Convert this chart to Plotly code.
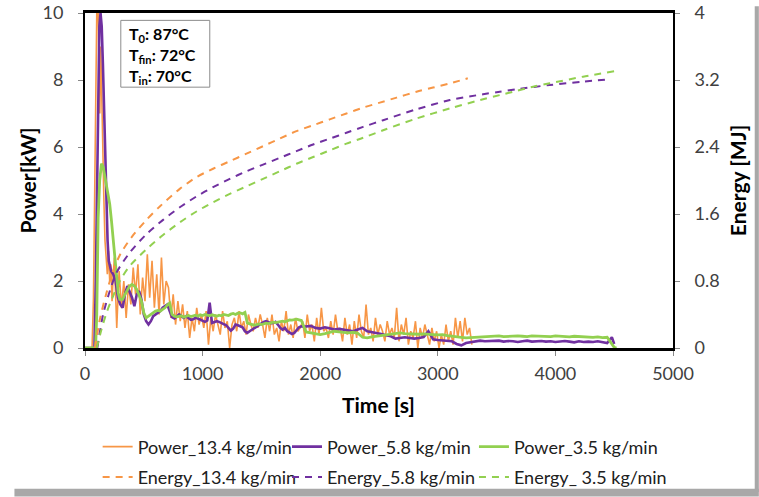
import plotly.graph_objects as go

# ---------------- data ----------------
# Power, 13.4 kg/min
orange_t0 = [0, 60, 72, 85, 95, 102, 110, 118, 126, 134, 142, 150, 160, 170, 180, 190, 200, 210, 220, 230, 240]
orange_p0 = [0, 0, 1.5, 5.5, 9.5, 10.6, 10.4, 8.2, 7.0, 9.0, 7.5, 5.5, 4.5, 3.2, 2.6, 2.2, 2.9, 2.0, 2.5, 1.4, 2.2]
orange_t1 = list(range(250, 3300, 20))
orange_p1 = [
    2.7, 0.6, 2.3, 1.2, 2.0, 0.9, 1.9, 1.3, 2.4,
    1.6, 2.5, 1.0, 2.1, 1.4, 2.8, 1.5,
    2.6, 1.2, 2.2, 1.0, 2.7, 1.3, 2.0,
    1.8, 0.9, 1.6, 0.7, 1.4, 0.8,
    1.3, 0.6, 1.1, 0.3, 0.9, 0.5, 1.2, 0.7, 1.0,
    0.6, 1.1, 0.1, 0.9, 0.5, 1.0, 0.7, 0.4, 1.1, 0.6, 0.8, 0.0, 0.7,
    0.9, 0.5, 1.1, 0.6, 0.8, 0.4, 1.0, 0.7, 0.5, 0.9, 0.6, 1.0,
    0.7, 0.3, 0.9, 0.5, 1.0, 0.4, 0.6, 0.2, 0.8, 0.5, 1.1, 0.4, 0.7, 0.3, 0.9, 0.5, 0.6,
    0.8, 0.3, 1.0, 0.5, 0.7, 0.2, 0.9, 0.4, 1.2, 0.5, 0.6, 0.3, 0.8, 0.4, 1.0, 0.5,
    0.6, 0.2, 0.9, 0.4, 0.7, 0.1, 0.8, 0.3, 1.0, 0.5, 0.3, 1.3, 0.4, 0.6, 0.2, 0.9, 0.4, 0.7,
    0.5, 0.2, 0.8, 0.4, 0.6, 0.3, 1.2, 0.2, 0.7, 0.4, 0.9, 0.1, 0.5, 0.3, 0.8, 0.0, 0.6, 0.3, 0.7,
    0.4, 0.1, 0.6, 0.2, 0.5, 0.0, 0.4, 0.1, 0.7, 0.2, 0.5, 0.1, 0.9, 0.3, 0.8, 0.2, 0.9, 0.4, 0.6, 0.1,
]

# Power, 5.8 kg/min
purple_t0 = [0, 80, 92, 102, 112, 122, 132, 142, 152, 162, 172, 182, 192, 202, 212, 222]
purple_p0 = [0, 0, 2.0, 5.0, 8.0, 9.6, 10.0, 9.6, 8.5, 7.0, 5.5, 4.2, 3.2, 2.6, 2.4, 2.3]
purple_t1 = list(range(240, 1860, 20))
purple_p1 = [
    2.2, 2.0, 1.5, 1.3, 1.2, 1.6, 1.85, 1.7, 1.5, 1.25,
    1.6, 1.7, 1.45, 1.0, 0.8, 0.7, 0.8, 0.95, 1.0, 1.05,
    1.1, 1.2, 1.25, 1.3, 1.1, 0.92, 0.88, 0.95, 1.0, 0.95,
    0.9, 0.95, 0.88, 0.84, 0.86, 0.9, 0.88, 0.85, 0.8, 0.78,
    0.82, 1.35, 0.75, 0.78, 0.8, 0.78, 0.74, 0.7, 0.68, 0.6,
    0.52, 0.58, 0.7, 0.68, 0.65, 0.62, 0.5, 0.45, 0.5, 0.55,
    0.6, 0.65, 0.7, 0.75, 0.78, 0.8, 0.76, 0.74, 0.75, 0.78,
    0.7, 0.6, 0.55, 0.6, 0.5, 0.45, 0.42, 0.45, 0.55, 0.62,
    0.65,
]
purple_t2 = list(range(1880, 4520, 40)) + [4500]
purple_p2 = [
    0.64, 0.66, 0.6, 0.58, 0.62, 0.59, 0.55, 0.57, 0.54, 0.52,
    0.5, 0.55, 0.6, 0.5, 0.48, 0.45, 0.42, 0.38, 0.35, 0.28,
    0.3, 0.32, 0.3, 0.28, 0.3, 0.33, 0.5, 0.26, 0.24, 0.23,
    0.22, 0.2, 0.12, 0.08, 0.15, 0.18, 0.2, 0.22, 0.2, 0.21,
    0.2, 0.22, 0.19, 0.21, 0.2, 0.18, 0.2, 0.22, 0.19, 0.2,
    0.21, 0.19, 0.2, 0.18, 0.2, 0.21, 0.19, 0.17, 0.2, 0.18,
    0.19, 0.18, 0.2, 0.17, 0.15, 0.32,
    0.12,
]

# Power, 3.5 kg/min
green_t0 = [0, 90, 100, 112, 125, 140, 155, 170, 185, 197, 210, 225, 239, 253, 268, 282, 296]
green_p0 = [0, 0, 1.0, 3.9, 5.0, 5.5, 5.4, 5.1, 4.8, 4.6, 4.3, 3.8, 3.3, 2.8, 2.2, 1.65, 1.45]
green_t1 = list(range(320, 1860, 20))
green_p1 = [
    1.45, 1.6, 1.75, 1.85, 1.9, 1.85, 1.75, 1.6, 1.4, 1.05,
    0.9, 0.95, 1.0, 1.05, 1.1, 1.12, 1.1, 1.15, 1.2, 1.28,
    1.34, 1.0, 0.95, 0.93, 0.94, 0.96, 0.92, 0.95, 0.97, 0.94,
    0.96, 0.98, 0.95, 0.99, 0.97, 1.0, 0.98, 0.96, 0.99, 0.97,
    0.95, 0.98, 0.96, 1.0, 0.99, 0.97, 1.01, 1.03, 1.0, 1.04,
    1.05, 1.02, 1.06, 0.75, 0.72, 0.7, 0.68, 0.7, 0.72, 0.7,
    0.72, 0.74, 0.73, 0.75, 0.77, 0.76, 0.78, 0.79, 0.8, 0.78,
    0.82, 0.84, 0.83, 0.85, 0.86, 0.84, 0.82,
]
green_t2 = list(range(1880, 4480, 40)) + [4470, 4500, 4520]
green_p2 = [
    0.48, 0.45, 0.42, 0.4, 0.43, 0.47, 0.5, 0.48, 0.46, 0.45,
    0.47, 0.44, 0.32, 0.3, 0.33, 0.35, 0.37, 0.4, 0.42, 0.44,
    0.45, 0.43, 0.42, 0.4, 0.41, 0.42, 0.4, 0.4, 0.39, 0.4,
    0.37, 0.36, 0.34, 0.32, 0.3, 0.31, 0.33, 0.34, 0.35, 0.36,
    0.35, 0.36, 0.34, 0.35, 0.37, 0.36, 0.35, 0.34, 0.36, 0.35,
    0.36, 0.35, 0.34, 0.36, 0.35, 0.34, 0.33, 0.35, 0.34, 0.33,
    0.34, 0.32, 0.33, 0.31, 0.32,
    0.15, 0.02, 0.0,
]

# Energy curves [MJ]
e_orange_t = [85, 126, 183, 239, 300, 400, 523, 636, 806, 948, 1089, 1231, 1373, 1514, 1656,
              1798, 1940, 2081, 2223, 2365, 2507, 2650, 2819, 2960, 3102, 3255]
e_orange = [0, 0.34, 0.66, 0.92, 1.12, 1.33, 1.53, 1.69, 1.90, 2.04, 2.14, 2.23, 2.32, 2.41, 2.50,
            2.59, 2.66, 2.73, 2.80, 2.87, 2.93, 2.99, 3.06, 3.11, 3.16, 3.22]
e_purple_t = [105, 154, 211, 268, 381, 523, 664, 806, 948, 1089, 1231, 1373, 1514, 1656, 1798, 1940,
              2081, 2223, 2365, 2535, 2819, 3102, 3385, 3527, 3669, 3952, 4235, 4470]
e_purple = [0, 0.40, 0.68, 0.90, 1.14, 1.36, 1.53, 1.68, 1.81, 1.92, 2.02, 2.11, 2.19, 2.27, 2.35, 2.43,
            2.50, 2.57, 2.64, 2.72, 2.85, 2.96, 3.03, 3.06, 3.09, 3.14, 3.18, 3.21]
e_green_t = [100, 140, 183, 239, 296, 381, 523, 664, 806, 948, 1089, 1231, 1373, 1514, 1656, 1798,
             1940, 2081, 2223, 2365, 2535, 2819, 3102, 3385, 3527, 3669, 3810, 3952, 4235, 4504]
e_green = [0, 0.22, 0.42, 0.62, 0.80, 0.98, 1.18, 1.35, 1.50, 1.63, 1.74, 1.84, 1.93, 2.02, 2.11, 2.20,
           2.28, 2.36, 2.44, 2.51, 2.60, 2.74, 2.86, 2.97, 3.02, 3.07, 3.12, 3.16, 3.24, 3.305]

names_power = ["Power_13.4 kg/min", "Power_5.8 kg/min", "Power_3.5 kg/min"]
names_energy = ["Energy_13.4 kg/min", "Energy_5.8 kg/min", "Energy_ 3.5 kg/min"]
x_ticks = [0, 1000, 2000, 3000, 4000, 5000]
y_ticks = [0, 2, 4, 6, 8, 10]
y2_ticks = [0, 0.8, 1.6, 2.4, 3.2, 4]
y2_labels = ["0", "0.8", "1.6", "2.4", "3.2", "4"]

ORANGE = "#F79646"
PURPLE = "#7030A0"
GREEN = "#92D050"
FONT = "Lato, 'Liberation Sans', Arial, sans-serif"

fig = go.Figure()
fig.add_trace(go.Scatter(x=orange_t0 + orange_t1, y=orange_p0 + orange_p1, mode="lines",
                         name=names_power[0], legend="legend", legendgroup="p1",
                         line=dict(color=ORANGE, width=1.6)))
fig.add_trace(go.Scatter(x=purple_t0 + purple_t1 + purple_t2, y=purple_p0 + purple_p1 + purple_p2,
                         mode="lines", name=names_power[1], legend="legend2", legendgroup="p2",
                         line=dict(color=PURPLE, width=2.6)))
fig.add_trace(go.Scatter(x=green_t0 + green_t1 + green_t2, y=green_p0 + green_p1 + green_p2,
                         mode="lines", name=names_power[2], legend="legend3", legendgroup="p3",
                         line=dict(color=GREEN, width=2.8)))
fig.add_trace(go.Scatter(x=e_orange_t, y=e_orange, mode="lines", name=names_energy[0], yaxis="y2",
                         legend="legend", legendgroup="e1",
                         line=dict(color=ORANGE, width=2, dash="7px,6px", shape="spline", smoothing=0.8)))
fig.add_trace(go.Scatter(x=e_purple_t, y=e_purple, mode="lines", name=names_energy[1], yaxis="y2",
                         legend="legend2", legendgroup="e2",
                         line=dict(color=PURPLE, width=2, dash="7px,6px", shape="spline", smoothing=0.8)))
fig.add_trace(go.Scatter(x=e_green_t, y=e_green, mode="lines", name=names_energy[2], yaxis="y2",
                         legend="legend3", legendgroup="e3",
                         line=dict(color=GREEN, width=2, dash="7px,6px", shape="spline", smoothing=0.8)))

tickfont = dict(family=FONT, size=18, color="#404040")
legfont = dict(family=FONT, size=18, color="#202020")
leg_common = dict(orientation="v", xanchor="left", y=-0.240, yanchor="top", font=legfont,
                  bgcolor="rgba(0,0,0,0)", itemwidth=30, tracegroupgap=4, traceorder="grouped")

fig.update_layout(
    width=759, height=497,
    margin=dict(l=85, r=86, t=13, b=149, autoexpand=False),
    paper_bgcolor="white", plot_bgcolor="white",
    font=dict(family=FONT, size=18, color="#202020"),
    showlegend=True,
    xaxis=dict(range=[0, 5000], tickvals=x_ticks, ticks="outside", ticklen=5, tickcolor="#888",
               showline=True, linecolor="black", linewidth=3, mirror=True, showgrid=False,
               zeroline=False, tickfont=tickfont, ticklabelstandoff=2),
    yaxis=dict(range=[0, 10], tickvals=y_ticks, ticks="outside", ticklen=5, tickcolor="#888",
               showline=True, linecolor="black", linewidth=2, mirror=True, showgrid=False,
               zeroline=False, tickfont=tickfont, ticklabelstandoff=11),
    yaxis2=dict(range=[0, 4], tickvals=y2_ticks, ticktext=y2_labels, overlaying="y", side="right",
                ticks="outside", ticklen=5, tickcolor="#888", showline=True, linecolor="black",
                linewidth=2, showgrid=False, zeroline=False, tickfont=tickfont, ticklabelstandoff=11),
    legend=dict(x=0.0215, **leg_common),
    legend2=dict(x=0.3435, **leg_common),
    legend3=dict(x=0.6615, **leg_common),
)

# temperature box
fig.add_shape(type="rect", xref="paper", yref="paper", x0=0.0609, x1=0.2122, y0=0.7786, y1=0.978,
              line=dict(color="#8c8c8c", width=1), fillcolor="white", layer="above")
fig.add_annotation(text="<b>T<sub>0</sub>: 87°C<br>T<sub>fin</sub>: 72°C<br>T<sub>in</sub>: 70°C</b>",
                   xref="paper", yref="paper", x=0.071, y=0.873, xanchor="left", yanchor="middle",
                   showarrow=False, align="left", font=dict(family=FONT, size=16, color="black"))
fig.add_annotation(text="<b>Power[kW]</b>", xref="paper", yref="paper", x=-0.097, y=0.5,
                   xanchor="center", yanchor="middle",
                   textangle=-90, showarrow=False, font=dict(family=FONT, size=21, color="black"))
fig.add_annotation(text="<b>Energy [MJ]</b>", xref="paper", yref="paper", x=1.110, y=0.5,
                   xanchor="center", yanchor="middle",
                   textangle=-90, showarrow=False, font=dict(family=FONT, size=21, color="black"))
fig.add_annotation(text="<b>Time [s]</b>", xref="paper", yref="paper", x=0.499, y=-0.169,
                   xanchor="center", yanchor="middle",
                   showarrow=False, font=dict(family=FONT, size=21, color="black"))

# picture-frame shadow on the right and bottom edges
fig.add_shape(type="rect", xref="paper", yref="paper", x0=1.139, x1=1.146, y0=1.02, y1=-0.43,
              fillcolor="#a8a8a8", line_width=0, layer="above")
fig.add_shape(type="rect", xref="paper", yref="paper", x0=-0.12, x1=1.146, y0=-0.42, y1=-0.443,
              fillcolor="#a8a8a8", line_width=0, layer="above")

fig.write_html("out.html")
